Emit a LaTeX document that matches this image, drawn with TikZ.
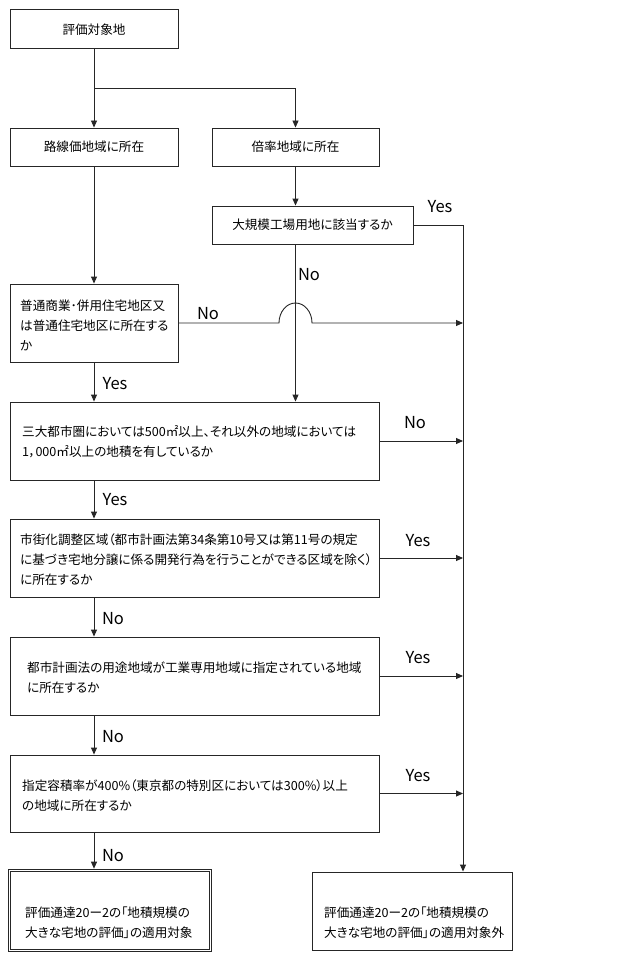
\documentclass[tikz,border=0pt]{standalone}
\usepackage{fontspec}
\setmainfont{Noto Sans CJK JP}[RawFeature={+palt}]
\usetikzlibrary{arrows.meta}
\begin{document}
\begin{tikzpicture}[x=1pt,y=-1pt,
  box/.style={draw=black!85, line width=0.9pt, rectangle, inner sep=0pt},
  txt/.style={font=\fontsize{12.6}{20}\selectfont, inner sep=0pt, align=left},
  lbl/.style={font=\fontsize{16.5}{18}\selectfont, inner sep=0pt},
  conn/.style={draw=black!85, line width=0.9pt},
  arr/.style={conn, -{Triangle[length=7pt,width=6pt]}},
]
\useasboundingbox[fill=white] (0,0) rectangle (620,960);

% boxes
\node[box, minimum width=168pt, minimum height=39pt] (b1) at (94,28.5) {};
\node[box, minimum width=168pt, minimum height=38pt] (b2) at (94,147) {};
\node[box, minimum width=167pt, minimum height=38pt] (b3) at (295.5,147) {};
\node[box, minimum width=201pt, minimum height=38pt] (b4) at (312.5,225) {};
\node[box, minimum width=168pt, minimum height=78pt] (b5) at (94,323) {};
\node[box, minimum width=369pt, minimum height=78pt] (b6) at (194.5,441) {};
\node[box, minimum width=369pt, minimum height=78pt] (b7) at (194.5,558) {};
\node[box, minimum width=369pt, minimum height=78pt] (b8) at (194.5,676) {};
\node[box, minimum width=369pt, minimum height=77pt] (b9) at (194.5,793.5) {};
\node[box, line width=0.7pt, minimum width=203pt, minimum height=82pt] (b10) at (109.5,910) {};
\draw[draw=black!85, line width=0.7pt] ([shift={(2.4,2.4)}]b10.north west) rectangle ([shift={(-2.4,-2.4)}]b10.south east);
\node[box, minimum width=200pt, minimum height=78pt] (b11) at (412,911) {};

% texts
\node[txt] (t1) at (94,30) {評価対象地};
\node[txt] (t2) at (94,147) {路線価地域に所在};
\node[txt] (t3) at (295.5,147) {倍率地域に所在};
\node[txt] (t4) at (312.5,225) {大規模工場用地に該当するか};
\node[txt, anchor=west] (t5) at (20,325) {普通商業･併用住宅地区又\\は普通住宅地区に所在する\\か};
\node[txt, anchor=west] (t6) at (22,442) {三大都市圏においては500㎡以上、それ以外の地域においては\\1，000㎡以上の地積を有しているか};
\node[txt, anchor=west] (t7) at (20,560) {市街化調整区域（都市計画法第34条第10号又は第11号の規定\\に基づき宅地分譲に係る開発行為を行うことができる区域を除く）\\に所在するか};
\node[txt, anchor=west] (t8) at (27,678) {都市計画法の用途地域が工業専用地域に指定されている地域\\に所在するか};
\node[txt, anchor=west] (t9) at (22,795.5) {指定容積率が400\%（東京都の特別区においては300\%）以上\\の地域に所在するか};
\node[txt, anchor=west] (t10) at (25,923) {評価通達20ー2の「地積規模の\\大きな宅地の評価」の適用対象};
\node[txt, anchor=west] (t11) at (324,923) {評価通達20ー2の「地積規模の\\大きな宅地の評価」の適用対象外};

% helper coordinates
\coordinate (j1) at (94,88);
\coordinate (rt) at (463,225);
\coordinate (hopL) at (279,323);

% connectors
\draw[arr] (b1.south) -- (b2.north);
\draw[arr] (j1) -| (b3.north);
\draw[arr] (b3.south) -- (b4.north -| b3.south);
\draw[arr] (b2.south) -- (b5.north);
\draw[arr] (b4.east) -- (rt) -- (b11.north -| rt);
\draw[arr] (b4.south -| b3.south) -- (b6.north -| b3.south);
\draw[arr] (b5.east) -- (hopL) arc[start angle=180, end angle=360, x radius=16.5, y radius=20] -- (hopL -| rt);
\draw[arr] (b5.south) -- (b6.north -| b5.south);
\draw[arr] (b6.east) -- (b6.east -| rt);
\draw[arr] (b6.south -| b5.south) -- (b7.north -| b5.south);
\draw[arr] (b7.east) -- (b7.east -| rt);
\draw[arr] (b7.south -| b5.south) -- (b8.north -| b5.south);
\draw[arr] (b8.east) -- (b8.east -| rt);
\draw[arr] (b8.south -| b5.south) -- (b9.north -| b5.south);
\draw[arr] (b9.east) -- (b9.east -| rt);
\draw[arr] (b9.south -| b5.south) -- (b10.north -| b5.south);

% labels
\node[lbl] (l1) at (440,207) {Yes};
\node[lbl] (l2) at (309,275) {No};
\node[lbl] (l3) at (208,314) {No};
\node[lbl] (l4) at (115,384) {Yes};
\node[lbl] (l5) at (415,423) {No};
\node[lbl] (l6) at (115,500) {Yes};
\node[lbl] (l7) at (418,541) {Yes};
\node[lbl] (l8) at (113,619) {No};
\node[lbl] (l9) at (418,658) {Yes};
\node[lbl] (l10) at (113,737) {No};
\node[lbl] (l11) at (418,776) {Yes};
\node[lbl] (l12) at (113,856) {No};
\end{tikzpicture}
\end{document}
